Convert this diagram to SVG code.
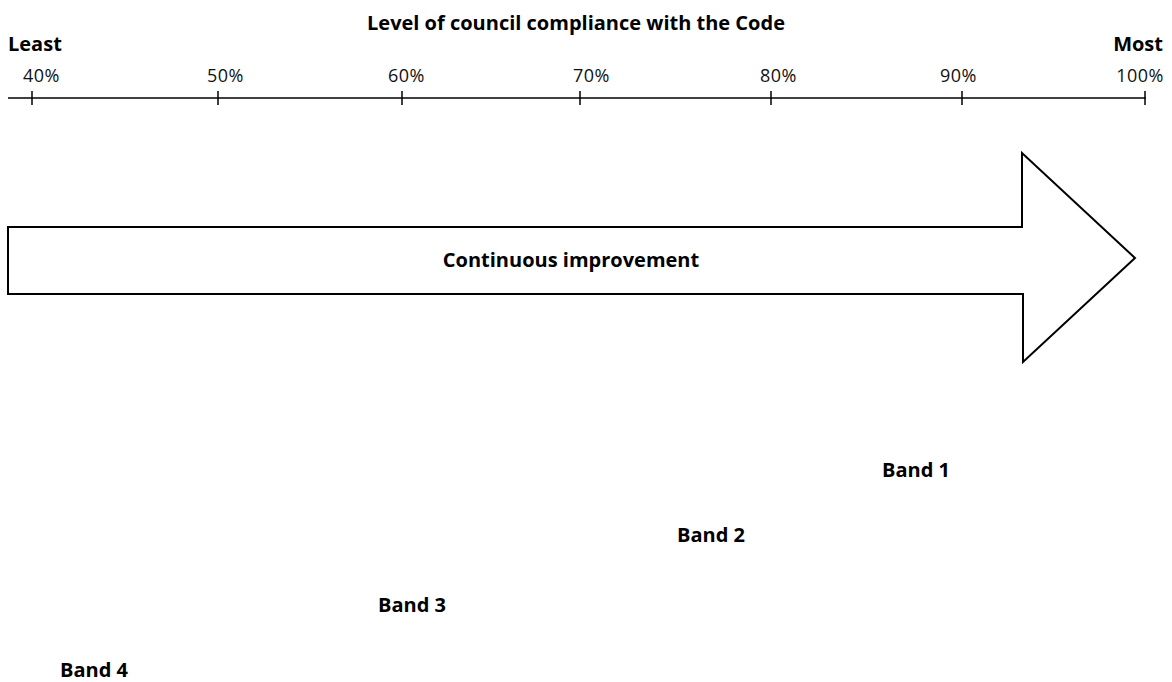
<svg xmlns="http://www.w3.org/2000/svg" width="1172" height="682" viewBox="0 0 1172 682">
  <style>
    .b { font-family: "Open Sans", "Liberation Sans", sans-serif; font-weight: 700; font-size: 20px; fill: #000; }
    .p { font-family: "Open Sans", "Liberation Sans", sans-serif; font-weight: 400; font-size: 18px; fill: #111; letter-spacing: 0.5px; }
    .ax { stroke: #000; stroke-width: 1.5; fill: none; }
    .arrow { fill: #fff; stroke: #000; stroke-width: 2; stroke-linejoin: miter; }
  </style>
  <rect width="1172" height="682" fill="#fff"/>
  <g id="title">
    <text class="b" x="576" y="30" text-anchor="middle">Level of council compliance with the Code</text>
    <text class="b" x="8" y="51">Least</text>
    <text class="b" x="1163" y="51" text-anchor="end">Most</text>
  </g>
  <g id="axis">
    <line class="ax" x1="8" y1="98" x2="1146" y2="98"/>
    <line class="ax" x1="32" y1="91" x2="32" y2="105"/>
    <line class="ax" x1="218" y1="91" x2="218" y2="105"/>
    <line class="ax" x1="402" y1="91" x2="402" y2="105"/>
    <line class="ax" x1="580" y1="91" x2="580" y2="105"/>
    <line class="ax" x1="771" y1="91" x2="771" y2="105"/>
    <line class="ax" x1="962" y1="91" x2="962" y2="105"/>
    <line class="ax" x1="1145" y1="91" x2="1145" y2="105"/>
    <text class="p" x="23" y="82">40%</text>
    <text class="p" x="207" y="82">50%</text>
    <text class="p" x="388" y="82">60%</text>
    <text class="p" x="573" y="82">70%</text>
    <text class="p" x="760" y="82">80%</text>
    <text class="p" x="940" y="82">90%</text>
    <text class="p" x="1164" y="82" text-anchor="end">100%</text>
  </g>
  <g id="connectors"></g>
  <g id="continuous-improvement">
    <polygon class="arrow" points="8,227 1022,227 1022,153 1135,258 1023,362 1023,294 8,294"/>
    <text class="b" x="571" y="267" text-anchor="middle">Continuous improvement</text>
  </g>
  <g id="band1"><text class="b" x="882" y="477">Band 1</text></g>
  <g id="band2"><text class="b" x="677" y="542">Band 2</text></g>
  <g id="band3"><text class="b" x="378" y="612">Band 3</text></g>
  <g id="band4"><text class="b" x="60" y="677">Band 4</text></g>
</svg>
